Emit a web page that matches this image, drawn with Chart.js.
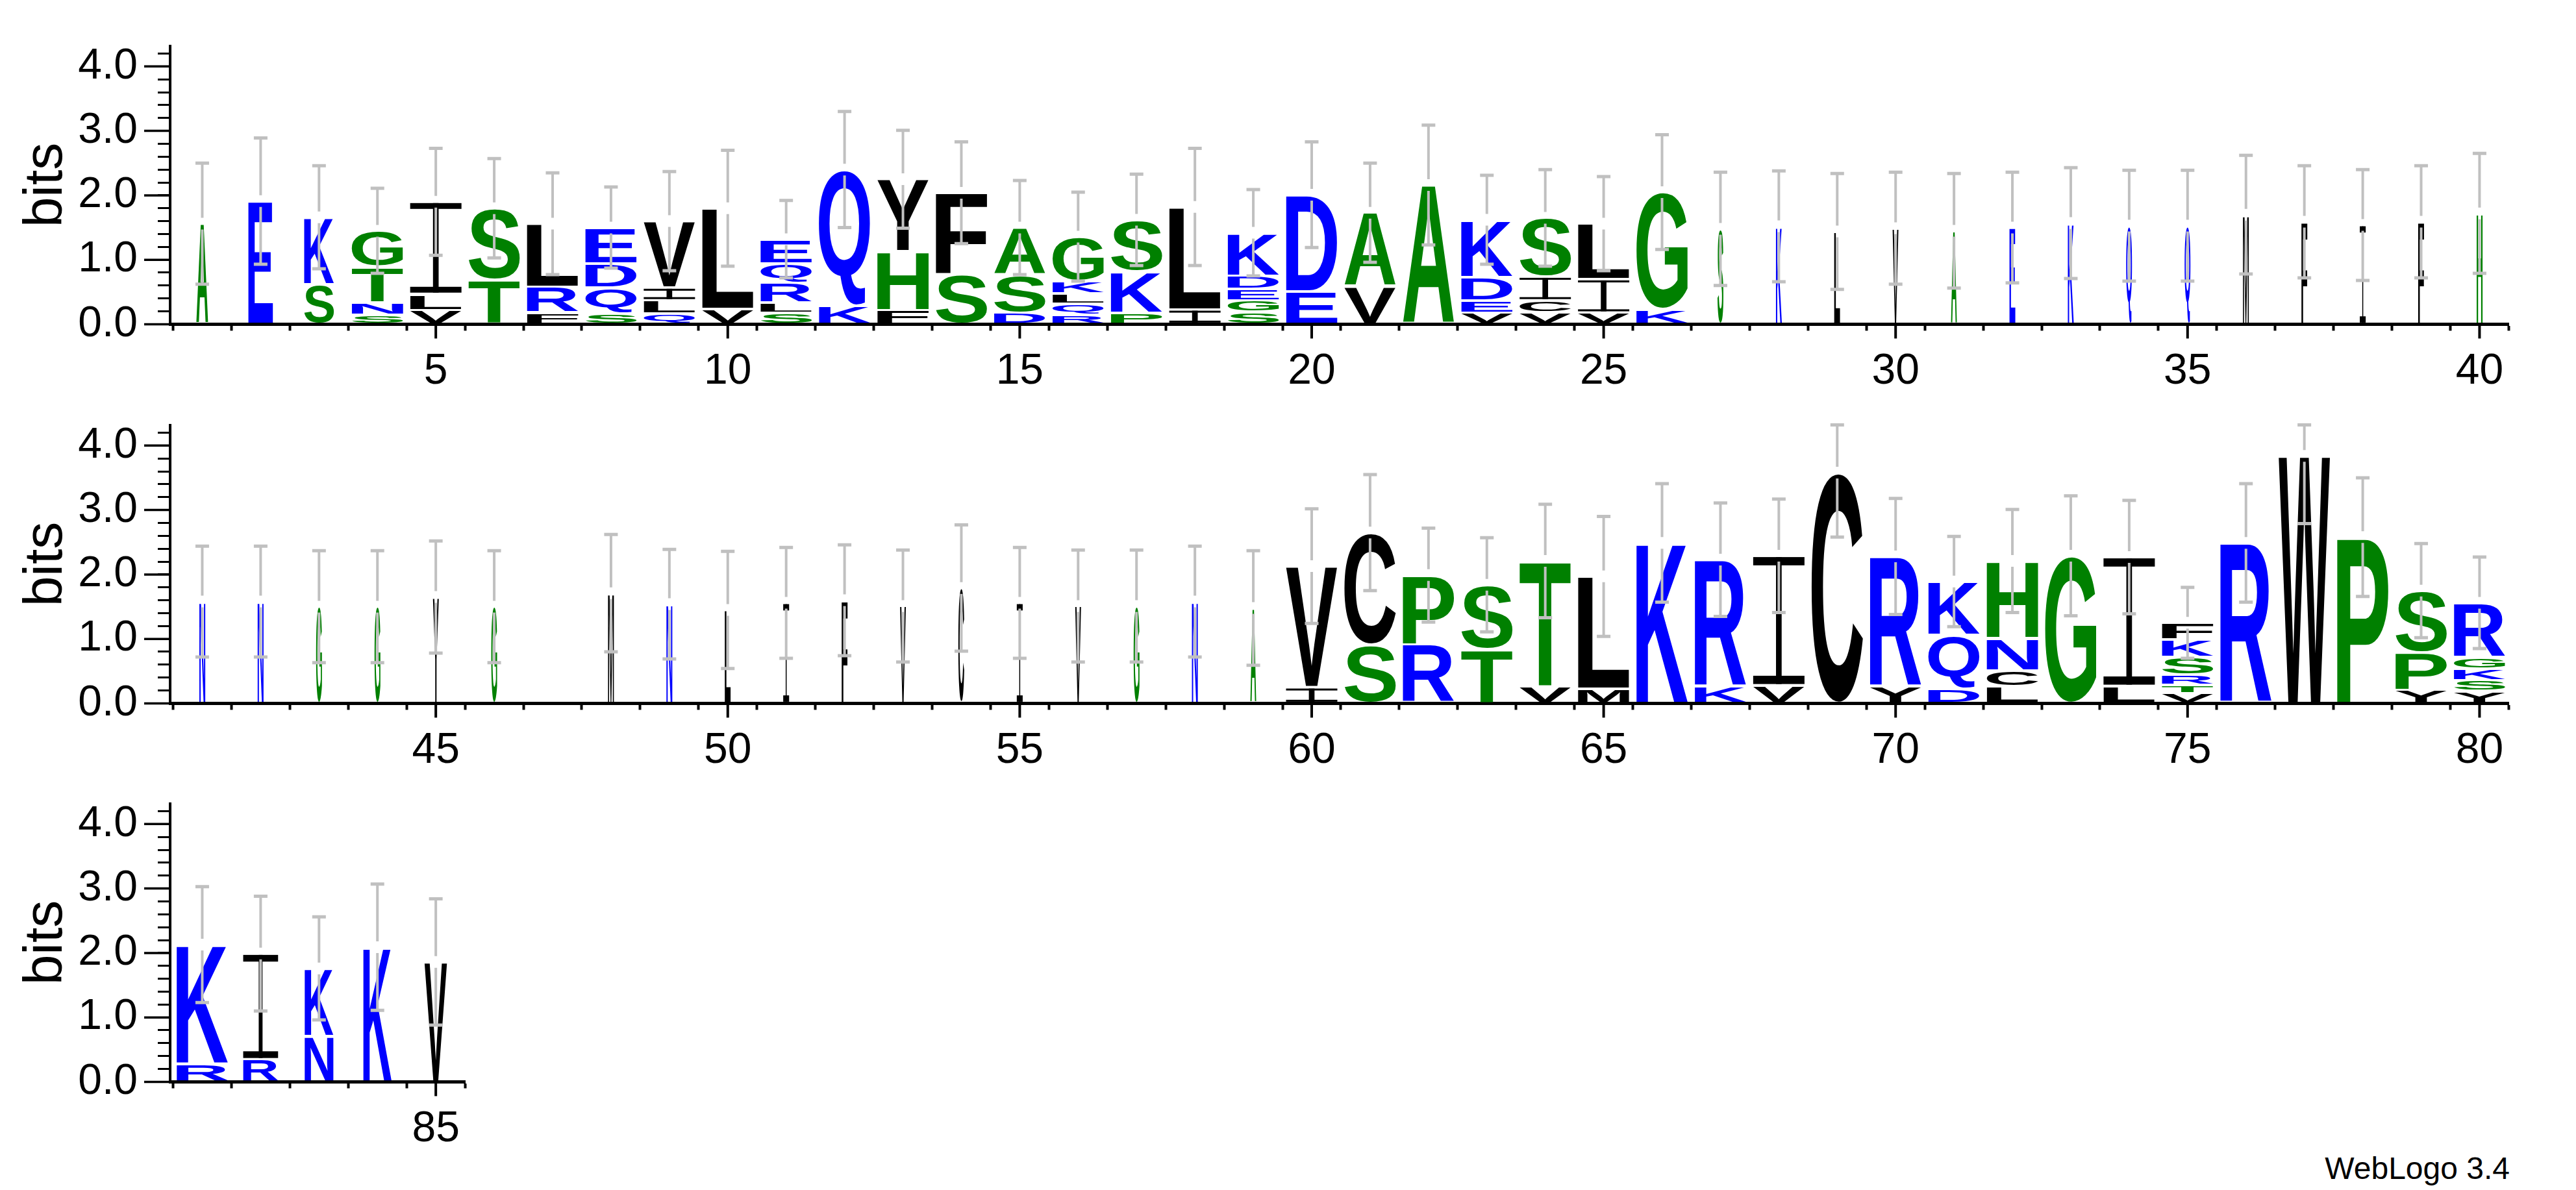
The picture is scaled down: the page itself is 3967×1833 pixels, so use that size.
<!DOCTYPE html>
<html>
<head>
<meta charset="utf-8">
<title>Sequence logo</title>
<script src="https://cdn.jsdelivr.net/npm/chart.js@4.4.1/dist/chart.umd.min.js"></script>
<style>
  html, body { margin: 0; padding: 0; background: #fff; }
  body { width: 3967px; height: 1833px; position: relative; overflow: hidden; }
  .row { position: absolute; left: 0; }
  #credit {
    position: absolute; right: 102px; top: 1776px;
    font: 48px "Liberation Sans", Arial, sans-serif; line-height: 1; color: #000;
  }
</style>
</head>
<body>
<div class="row" style="top:0px"><canvas id="logo1" width="3967" height="620"></canvas></div>
<div class="row" style="top:584px"><canvas id="logo2" width="3967" height="620"></canvas></div>
<div class="row" style="top:1167px"><canvas id="logo3" width="760" height="620"></canvas></div>
<div id="credit">WebLogo 3.4</div>

<script>
// sequence positions 1..85
const positions = Array.from({ length: 85 }, (_, i) => i + 1);

// letters of each column, bottom to top
const stackLetters = [
    'A', 'E', 'SK', 'SNTG', 'VLI', 'TS', 'FRL', 'SQDE', 'QLIV', 'VL',
    'SLRQE', 'KQ', 'FHY', 'SF', 'DSA', 'RQLKG', 'PKS', 'IL', 'SGEDK', 'ED',
    'VA', 'A', 'VEDK', 'VCIS', 'VIL', 'KG', 'S', 'K', 'L', 'V',
    'A', 'E', 'K', 'Q', 'Q', 'M', 'F', 'I', 'F', 'H',
    'N', 'N', 'G', 'G', 'Y', 'G', '', 'M', 'N', 'L',
    'I', 'F', 'V', 'C', 'I', 'V', 'G', 'N', 'A', 'IV',
    'SC', 'RP', 'TS', 'VT', 'ML', 'K', 'KR', 'VI', 'C', 'YR',
    'DQK', 'LCNH', 'G', 'LI', 'VTRSKF', 'R', 'W', 'P', 'YPS', 'YSKGR',
    'RK', 'RI', 'NK', 'K', 'V'
];

// height of each letter in bits, same order as stackLetters
const stackHeights = [
    [1.56], [1.91], [0.62, 1.04], [0.15, 0.19, 0.55, 0.56], [0.22, 0.25, 1.43],
    [0.68, 1.12], [0.18, 0.40, 0.98], [0.17, 0.40, 0.37, 0.56], [0.17, 0.20, 0.20, 1.03], [0.24, 1.56],
    [0.18, 0.15, 0.31, 0.30, 0.38], [0.29, 2.11], [0.22, 0.91, 1.12], [0.77, 1.27], [0.18, 0.59, 0.73],
    [0.15, 0.17, 0.16, 0.19, 0.69], [0.18, 0.64, 0.80], [0.23, 1.59], [0.19, 0.18, 0.18, 0.20, 0.67], [0.51, 1.50],
    [0.59, 1.14], [2.16], [0.18, 0.19, 0.36, 0.89], [0.18, 0.19, 0.37, 0.91], [0.18, 0.52, 0.86],
    [0.23, 1.82], [1.48], [1.52], [1.44], [1.49],
    [1.45], [1.50], [1.57], [1.53], [1.53],
    [1.70], [1.59], [1.54], [1.59], [1.72],
    [1.58], [1.58], [1.50], [1.50], [1.65],
    [1.50], [], [1.71], [1.54], [1.45],
    [1.56], [1.60], [1.51], [1.79], [1.56],
    [1.51], [1.51], [1.58], [1.48], [0.25, 1.88],
    [0.91, 1.74], [0.91, 1.08], [0.84, 1.00], [0.26, 1.95], [0.23, 1.74],
    [2.49], [0.26, 1.97], [0.28, 2.01], [3.58], [0.26, 2.02],
    [0.23, 0.83, 0.83], [0.26, 0.25, 0.50, 1.20], [2.29], [0.27, 2.00], [0.16, 0.13, 0.15, 0.28, 0.27, 0.26],
    [2.49], [3.84], [2.58], [0.21, 0.58, 0.96], [0.19, 0.17, 0.18, 0.17, 0.85],
    [0.28, 1.85], [0.35, 1.64], [0.71, 1.05], [2.09], [1.86]
];

// relative column width (share of sequences without a gap)
const columnWidths = [
    0.23, 0.48, 0.58, 1, 1, 1, 1, 1, 1, 1,
    1, 1, 1, 1, 1, 1, 1, 1, 1, 1,
    1, 1, 1, 1, 1, 1, 0.115, 0.115, 0.115, 0.115,
    0.115, 0.115, 0.115, 0.115, 0.115, 0.115, 0.115, 0.115, 0.115, 0.115,
    0.115, 0.115, 0.115, 0.115, 0.115, 0.115, 0, 0.115, 0.115, 0.115,
    0.115, 0.115, 0.115, 0.115, 0.115, 0.115, 0.115, 0.115, 0.115, 1,
    1, 1, 1, 1, 1, 1, 1, 1, 1, 1,
    1, 1, 1, 1, 1, 1, 1, 1, 1, 1,
    1, 0.68, 0.56, 0.55, 0.44
];

// half length of the error bar, bits
const errorBars = [
    0.94, 0.98, 0.80, 0.66, 0.83, 0.77, 0.79, 0.63, 0.77, 0.90,
    0.60, 0.90, 0.76, 0.79, 0.73, 0.69, 0.71, 0.91, 0.67, 0.82,
    0.77, 0.93, 0.69, 0.75, 0.73, 0.89, 0.88, 0.86, 0.90, 0.87,
    0.89, 0.86, 0.86, 0.86, 0.86, 0.92, 0.87, 0.86, 0.87, 0.93,
    0.86, 0.86, 0.87, 0.87, 0.87, 0.87, 0, 0.91, 0.85, 0.91,
    0.86, 0.86, 0.87, 0.98, 0.86, 0.87, 0.87, 0.86, 0.89, 0.89,
    0.90, 0.73, 0.73, 0.88, 0.93, 0.92, 0.88, 0.88, 1.00, 0.90,
    0.70, 0.80, 0.93, 0.88, 0.55, 0.92, 1.05, 0.92, 0.73, 0.71,
    0.90, 0.89, 0.80, 0.98, 0.98
];

const yTickValues = Array.from({ length: 22 }, (_, i) => i * 0.2);
const Y_MAX = 4.32;   // log2(20)

// hydrophobicity colour scheme
const letterGroups = [
    { letters: 'RKDENQ', color: '#0000ff' },
    { letters: 'SGHTAP', color: '#008000' },
    { letters: 'YVMCLFIW', color: '#000000' }
];
function colorOf(ch) {
    const g = letterGroups.find(g => g.letters.includes(ch));
    return g ? g.color : '#000';
}

const FONT = '"Liberation Sans", Arial, Helvetica, sans-serif';
const GLYPH_FONT = 'bold 200px ' + FONT;
const LETTER_GAP = 2;
Chart.defaults.color = '#000';
Chart.defaults.font.family = FONT;

const glyphCache = {};
function glyphBox(ch) {
    if (!glyphCache[ch]) {
        const c = document.createElement('canvas').getContext('2d');
        c.font = GLYPH_FONT;
        const m = c.measureText(ch);
        glyphCache[ch] = {
            l: m.actualBoundingBoxLeft, r: m.actualBoundingBoxRight,
            a: m.actualBoundingBoxAscent, d: m.actualBoundingBoxDescent
        };
    }
    return glyphCache[ch];
}

// the logo's I has bars top and bottom, the sans font has none
function drawSerifI(ctx, left, top, w, h) {
    const bar = Math.max(h * 0.065, 3);
    const stem = Math.max(w * 0.11, 1.5);
    ctx.fillRect(left, top, w, bar);
    ctx.fillRect(left, top + h - bar, w, bar);
    ctx.fillRect(left + (w - stem) / 2, top, stem, h);
}

/**
 * Draws each stacked bar as its letter, stretched to fill the bar
 */
const logoLetters = {
    id: 'logoLetters',
    afterDatasetsDraw(chart) {
        const ctx = chart.ctx;
        chart.data.datasets.forEach((ds, di) => {
            const meta = chart.getDatasetMeta(di);
            meta.data.forEach((bar, j) => {
                const ch = ds.letters[j];
                if (!ch) return;
                const p = bar.getProps(['x', 'y', 'base', 'width'], true);
                const top = Math.min(p.y, p.base) + LETTER_GAP;
                const h = Math.abs(p.base - p.y) - 2 * LETTER_GAP;
                const w = p.width * ds.widths[j];
                if (h <= 0 || w <= 0) return;
                ctx.save();
                ctx.fillStyle = colorOf(ch);
                if (ch === 'I') {
                    drawSerifI(ctx, p.x - w / 2, top, w, h);
                } else {
                    const g = glyphBox(ch);
                    ctx.translate(p.x - w / 2, top);
                    ctx.scale(w / (g.l + g.r), h / (g.a + g.d));
                    ctx.font = GLYPH_FONT;
                    ctx.textAlign = 'left';
                    ctx.textBaseline = 'alphabetic';
                    ctx.fillText(ch, g.l, g.a);
                }
                ctx.restore();
            });
        });
    }
};

/**
 * Grey error bars centred on the top of each stack
 */
const errorBarPlugin = {
    id: 'errorBars',
    afterDatasetsDraw(chart, args, opts) {
        const { ctx, scales: { x, y } } = chart;
        ctx.save();
        ctx.strokeStyle = '#c0c0c0';
        opts.columns.forEach(i => {
            if (!errorBars[i]) return;
            const total = stackHeights[i].reduce((a, b) => a + b, 0);
            const px = x.getPixelForValue(positions[i]);
            const yTop = y.getPixelForValue(total);
            const yHi = y.getPixelForValue(Math.min(total + errorBars[i], Y_MAX));
            const yLo = y.getPixelForValue(total - errorBars[i]);
            ctx.lineWidth = 4;
            ctx.beginPath();
            ctx.moveTo(px, yHi); ctx.lineTo(px, yTop - 9);
            ctx.moveTo(px, yTop + 9); ctx.lineTo(px, yLo);
            ctx.stroke();
            ctx.lineWidth = 5;
            ctx.beginPath();
            ctx.moveTo(px - 10.5, yHi); ctx.lineTo(px + 10.5, yHi);
            ctx.moveTo(px - 10.5, yLo); ctx.lineTo(px + 10.5, yLo);
            ctx.stroke();
        });
        ctx.restore();
    }
};

/**
 * Longer tick marks at labelled values
 */
const majorTicks = {
    id: 'majorTicks',
    afterDraw(chart) {
        const { ctx, chartArea, scales: { x, y } } = chart;
        ctx.save();
        ctx.strokeStyle = '#000';
        ctx.lineWidth = 4;
        x.ticks.forEach(t => {
            if (t.value % 5 !== 0) return;
            const px = x.getPixelForValue(t.value);
            ctx.beginPath();
            ctx.moveTo(px, chartArea.bottom);
            ctx.lineTo(px, chartArea.bottom + 22);
            ctx.stroke();
        });
        ctx.lineWidth = 3.5;
        y.ticks.forEach(t => {
            if (Math.abs(t.value - Math.round(t.value)) > 1e-6) return;
            const py = y.getPixelForValue(t.value);
            ctx.beginPath();
            ctx.moveTo(chartArea.left, py);
            ctx.lineTo(chartArea.left - 40, py);
            ctx.stroke();
        });
        ctx.restore();
    }
};

function makeRow(canvasId, first, last, rightPad) {
    const cols = positions.map((p, i) => i).filter(i => positions[i] >= first && positions[i] <= last);
    const datasets = [];
    for (let k = 0; k < 6; k++) {
        datasets.push({
            data: cols.map(i => ({ x: positions[i], y: stackHeights[i][k] ?? null })),
            letters: cols.map(i => stackLetters[i][k] || ''),
            widths: cols.map(i => columnWidths[i]),
            backgroundColor: 'rgba(0,0,0,0)',
            borderWidth: 0,
            barThickness: 79,
            stack: 'logo'
        });
    }

    return new Chart(document.getElementById(canvasId), {
        type: 'bar',
        data: { datasets },
        plugins: [logoLetters, errorBarPlugin, majorTicks],
        options: {
            responsive: false,
            animation: false,
            events: [],
            layout: { padding: { left: 0, right: rightPad, top: 49, bottom: 0 } },
            plugins: {
                legend: { display: false },
                tooltip: { enabled: false },
                errorBars: { columns: cols }
            },
            scales: {
                x: {
                    type: 'linear',
                    min: first - 0.55,
                    max: last + 0.5,
                    stacked: true,
                    offset: false,
                    afterBuildTicks: s => { s.ticks = cols.map(i => ({ value: positions[i] })); },
                    afterFit: s => { s.height = 120.6; },
                    grid: { drawOnChartArea: false, drawTicks: true, tickLength: 10, tickWidth: 4, tickColor: '#000' },
                    border: { display: true, color: '#000', width: 5 },
                    ticks: {
                        autoSkip: false, maxRotation: 0, minRotation: 0, padding: 24,
                        font: { size: 66 }, color: '#000',
                        callback: v => (v % 5 === 0 ? String(v) : '')
                    }
                },
                y: {
                    min: 0,
                    max: Y_MAX,
                    stacked: true,
                    afterBuildTicks: s => { s.ticks = yTickValues.map(v => ({ value: v })); },
                    afterFit: s => { s.width = 262; },
                    grid: { drawOnChartArea: false, drawTicks: true, tickLength: 19, tickWidth: 3, tickColor: '#000' },
                    border: { display: true, color: '#000', width: 4 },
                    ticks: {
                        autoSkip: false, padding: 31,
                        font: { size: 66 }, color: '#000',
                        callback: v => (Math.abs(v - Math.round(v)) < 1e-6 ? v.toFixed(1) : '')
                    },
                    title: {
                        display: true, text: 'bits', color: '#000',
                        font: { size: 84 }, padding: { top: 21, bottom: 0 }
                    }
                }
            }
        }
    });
}

makeRow('logo1', 1, 40, 103.6);
makeRow('logo2', 41, 80, 103.6);
makeRow('logo3', 81, 85, 760 - 716.1);
</script>
</body>
</html>
